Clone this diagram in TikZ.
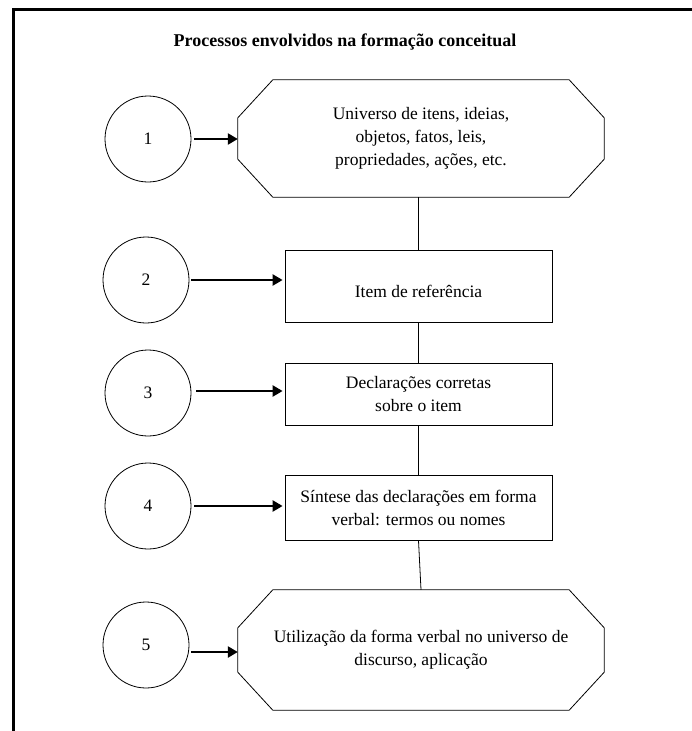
\documentclass[tikz,border=0pt]{standalone}
\usepackage{fontspec}
\setmainfont{Liberation Serif}
\usetikzlibrary{arrows.meta}
\newcommand\octpath[1]{\draw[link] ([xshift=35pt]#1.north west) -- ([xshift=-35pt]#1.north east) -- ([yshift=-38pt]#1.north east) -- ([yshift=38pt]#1.south east) -- ([xshift=-35pt]#1.south east) -- ([xshift=35pt]#1.south west) -- ([yshift=38pt]#1.south west) -- ([yshift=-38pt]#1.north west) -- cycle;}
\begin{document}
\begin{tikzpicture}[x=1pt,y=-1pt,
  txt/.style={font=\fontsize{17.5}{23}\selectfont},
  num/.style={draw, circle, minimum size=86pt, inner sep=0pt, line width=0.8pt, txt},
  boxnode/.style={draw, rectangle, minimum width=267pt, align=center, inner sep=0pt, line width=0.8pt, txt},
  octnode/.style={rectangle, minimum width=366pt, align=center, inner sep=0pt, txt},
  arr/.style={-{Triangle[length=10pt,width=11pt]}, line width=2.4pt},
  link/.style={line width=0.8pt}]
\useasboundingbox (0,0) rectangle (692,731);
\draw[line width=3.5pt] (692,9.5) -- (13.5,9.5) -- (13.5,731);

\node[font=\fontsize{18}{22}\selectfont\bfseries] (title) at (345,42) {Processos envolvidos na formação conceitual};

\node[octnode, minimum height=117pt] (o1) at (421,138.5) {Universo de itens, ideias,\\objetos, fatos, leis,\\propriedades, ações, etc.};
\octpath{o1}
\node[boxnode, minimum height=72pt] (r2) at (418.5,286) {\mbox{}\\Item de referência};
\node[boxnode, minimum height=62pt] (r3) at (418.5,394) {Declarações corretas\\sobre o item};
\node[boxnode, minimum height=65pt] (r4) at (418.5,507.5) {Síntese das declarações em forma\\verbal: termos ou nomes};
\node[octnode, minimum height=120pt] (o5) at (421,650) {Utilização da forma verbal no universo de\\discurso, aplicação};
\octpath{o5}

\node[num] (c1) at (148,139) {1};
\node[num] (c2) at (146,280) {2};
\node[num] (c3) at (148,393) {3};
\node[num] (c4) at (148,506) {4};
\node[num] (c5) at (146,645) {5};

\draw[arr] ([xshift=3pt]c1.east) -- (o1.west |- c1.east);
\draw[arr] ([xshift=2pt]c2.east) -- ([xshift=-2pt]r2.west |- c2.east);
\draw[arr] ([xshift=5pt,yshift=2pt]c3.east) -- ([xshift=-2pt,yshift=2pt]r3.west |- c3.east);
\draw[arr] ([xshift=3pt]c4.east) -- ([xshift=-2pt]r4.west |- c4.east);
\draw[arr] ([xshift=2pt,yshift=-7pt]c5.east) -- ([yshift=-7pt]o5.west |- c5.east);

\draw[link] (r2.north |- o1.south) -- (r2.north);
\draw[link] (r2.south) -- (r3.north);
\draw[link] (r3.south) -- (r4.north);
\draw[link] (r4.south) -- (o5.north);
\end{tikzpicture}
\end{document}
